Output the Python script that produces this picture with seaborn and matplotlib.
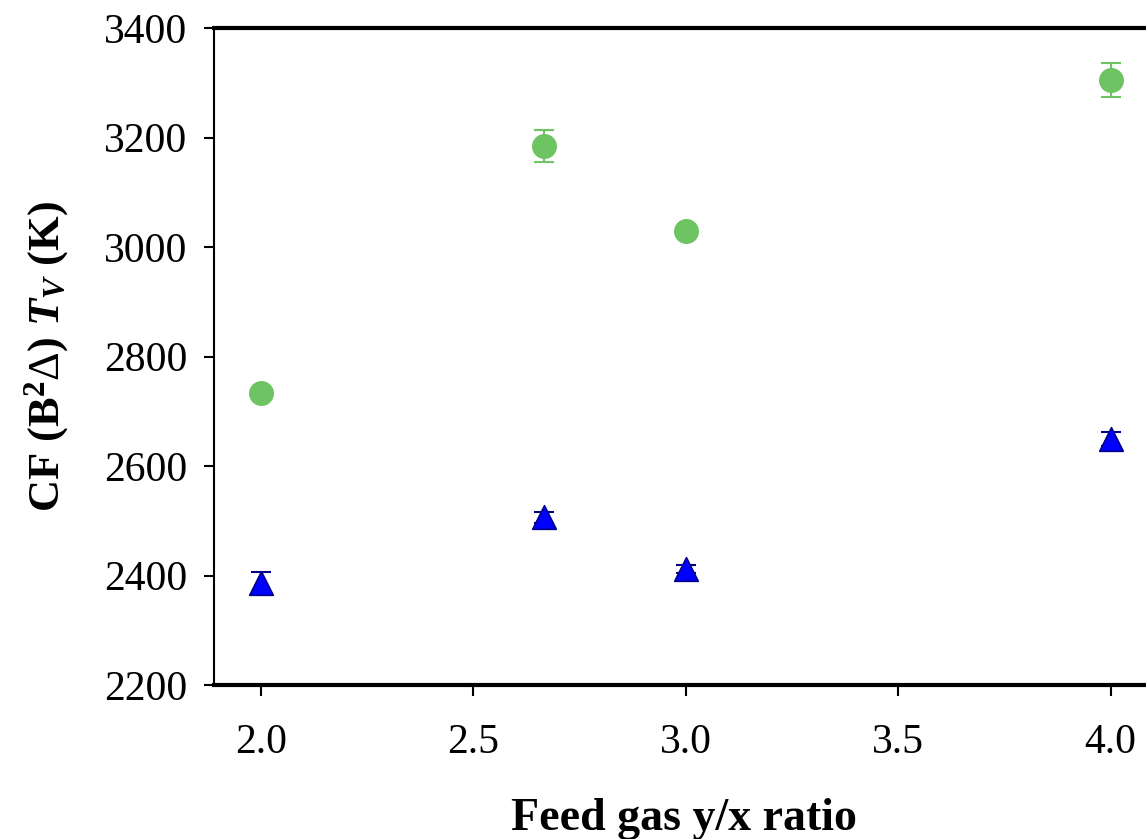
import matplotlib
matplotlib.use("Agg")
import matplotlib.pyplot as plt
import seaborn as sns
import pandas as pd

# Data
ratio = [2.0, 2.667, 3.0, 4.0]
tv_green = [2733, 3184, 3030, 3305]
err_green = [8, 29, 6, 31]
tv_blue = [2386, 2506, 2412, 2650]
err_blue = [20, 10, 7, 13]
xticks = [2.0, 2.5, 3.0, 3.5, 4.0]
yticks = [2200, 2400, 2600, 2800, 3000, 3200, 3400]

sns.set_style("ticks")
plt.rcParams['font.family'] = ['Liberation Serif', 'DejaVu Serif']
plt.rcParams['mathtext.fontset'] = 'custom'
plt.rcParams['mathtext.rm'] = 'Liberation Serif'
plt.rcParams['mathtext.bf'] = 'Liberation Serif:bold'
plt.rcParams['mathtext.it'] = 'Liberation Serif:italic'
plt.rcParams['mathtext.bfit'] = 'Liberation Serif:italic:bold'
for k in ['text.color', 'axes.labelcolor', 'xtick.color', 'ytick.color']:
    plt.rcParams[k] = 'black'

fig = plt.figure(figsize=(11.46, 8.39), dpi=100)
ax = fig.add_axes([214/1146, (839-685)/839, 939/1146, 657/839])

green = "#6EC462"
blue = "#0000FF"
navy = "#00008B"

df_g = pd.DataFrame({"x": ratio, "y": tv_green})
df_b = pd.DataFrame({"x": ratio, "y": tv_blue})

ax.errorbar(ratio, tv_green, yerr=err_green, fmt='none', ecolor=green,
            elinewidth=1.5, capsize=7, capthick=1.5, zorder=2)
ax.errorbar(ratio, tv_blue, yerr=err_blue, fmt='none', ecolor=navy,
            elinewidth=1.5, capsize=7, capthick=1.5, zorder=2)
sns.scatterplot(data=df_g, x="x", y="y", ax=ax, marker='o', s=18**2,
                color=green, edgecolor=green, linewidth=0, zorder=3)
sns.scatterplot(data=df_b, x="x", y="y", ax=ax, marker='^', s=17**2,
                color=blue, edgecolor=navy, linewidth=1.2, zorder=3)

ax.set_xlim(1.89, 4.1)
ax.set_ylim(2200, 3400)
ax.set_xticks(xticks)
ax.set_xticklabels([f"{t:.1f}" for t in xticks])
ax.set_yticks(yticks)
ax.set_yticklabels([str(t) for t in yticks])

ax.spines['top'].set_visible(True)
ax.spines['right'].set_visible(True)
ax.spines['top'].set_linewidth(3)
ax.spines['bottom'].set_linewidth(3)
ax.spines['left'].set_linewidth(1.5)
ax.spines['right'].set_linewidth(1.5)
for s in ax.spines.values():
    s.set_color('black')

ax.tick_params(axis='x', direction='out', length=8, width=1.5, pad=20,
               labelsize=30, colors='black')
ax.tick_params(axis='y', direction='out', length=7, width=1.5, pad=12,
               labelsize=30, colors='black')

ax.set_xlabel("Feed gas y/x ratio", fontsize=33, fontweight='bold', labelpad=26)
ax.set_ylabel(r"CF (B$^\mathbf{2}$$\Delta$) $\mathbfit{T}_{\mathbfit{V}}$ (K)",
              fontsize=32, fontweight='bold', labelpad=24)

fig.savefig("out.png", dpi=100)
